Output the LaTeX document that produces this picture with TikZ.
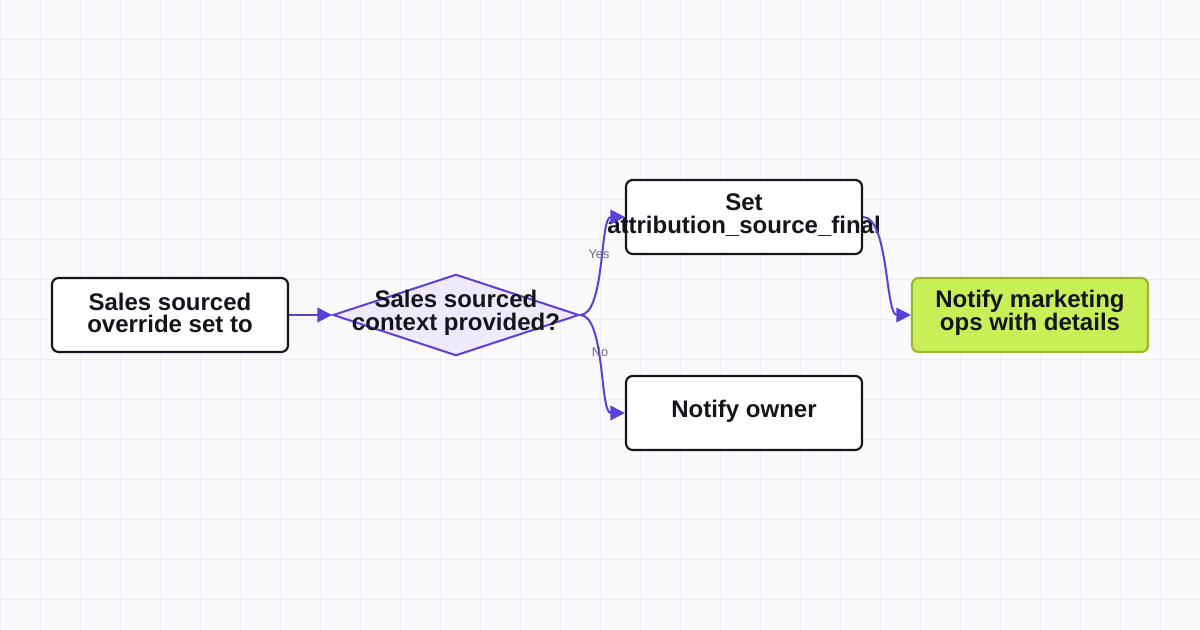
\documentclass[tikz,border=0pt]{standalone}
\usepackage{fontspec}
\setmainfont{Liberation Sans}
\usetikzlibrary{shapes.geometric,arrows.meta}
\definecolor{bgc}{HTML}{FAFAFD}
\definecolor{gridc}{HTML}{EEEDF8}
\definecolor{edgec}{HTML}{5B3FD9}
\definecolor{diafill}{HTML}{EEEAFB}
\definecolor{limefill}{HTML}{C8F056}
\definecolor{limeline}{HTML}{9BB82C}
\definecolor{txt}{HTML}{14141A}
\definecolor{lblc}{HTML}{6A6A72}
\tikzset{
  box/.style={draw=txt, fill=white, line width=1.6pt, rounded corners=5pt,
    minimum width=177pt, minimum height=55.5pt, inner sep=0pt},
  hl/.style={box, draw=limeline, fill=limefill},
  dia/.style={diamond, draw=edgec, fill=diafill, line width=1.5pt, inner sep=0pt,
    minimum width=184.5pt, minimum height=61pt, aspect=3},
  ntext/.style={text=txt, font=\fontsize{18}{17}\selectfont\bfseries, align=center, inner sep=0pt},
  elabel/.style={text=lblc, font=\fontsize{9.5}{11}\selectfont, inner sep=1pt},
  conn/.style={draw=edgec, line width=1.5pt, -{Triangle[length=11pt,width=11pt]}},
}
\begin{document}
\begin{tikzpicture}[x=0.75pt,y=-0.75pt]
\fill[bgc] (0,0) rectangle (1200,630);
\useasboundingbox (0,0) rectangle (1200,630);
\foreach \i in {0,40,...,1200} \draw[gridc, line width=0.75pt] (\i,0) -- (\i,630);
\foreach \j in {0,40,...,600} \draw[gridc, line width=0.75pt] (0,\j) -- (1200,\j);

\node[box] (a) at (170,315) {};
\node[ntext] (at) at (170,313) {Sales sourced\\override set to};

\node[dia] (d) at (456,315) {};
\node[ntext] (dt) at (456,313) {Sales sourced\\context provided?};

\node[box] (b) at (744,217) {};
\node[ntext] (bt) at (744,215) {Set\\attribution\_source\_final};

\node[box] (c) at (744,413) {};
\node[ntext] (ct) at (744,411) {Notify owner};

\node[hl] (e) at (1030,315) {};
\node[ntext] (et) at (1030,313) {Notify marketing\\ops with details};

\draw[conn] (a.east) -- (d.west);
\draw[conn] (d.east) to[out=0,in=180,looseness=0.6] (b.west);
\draw[conn] (d.east) to[out=0,in=180,looseness=0.6] (c.west);
\draw[conn] (b.east) to[out=0,in=180,looseness=0.6] (e.west);

\node[elabel] (yes) at (599,254) {Yes};
\node[elabel] (no) at (600,352) {No};
\end{tikzpicture}
\end{document}
